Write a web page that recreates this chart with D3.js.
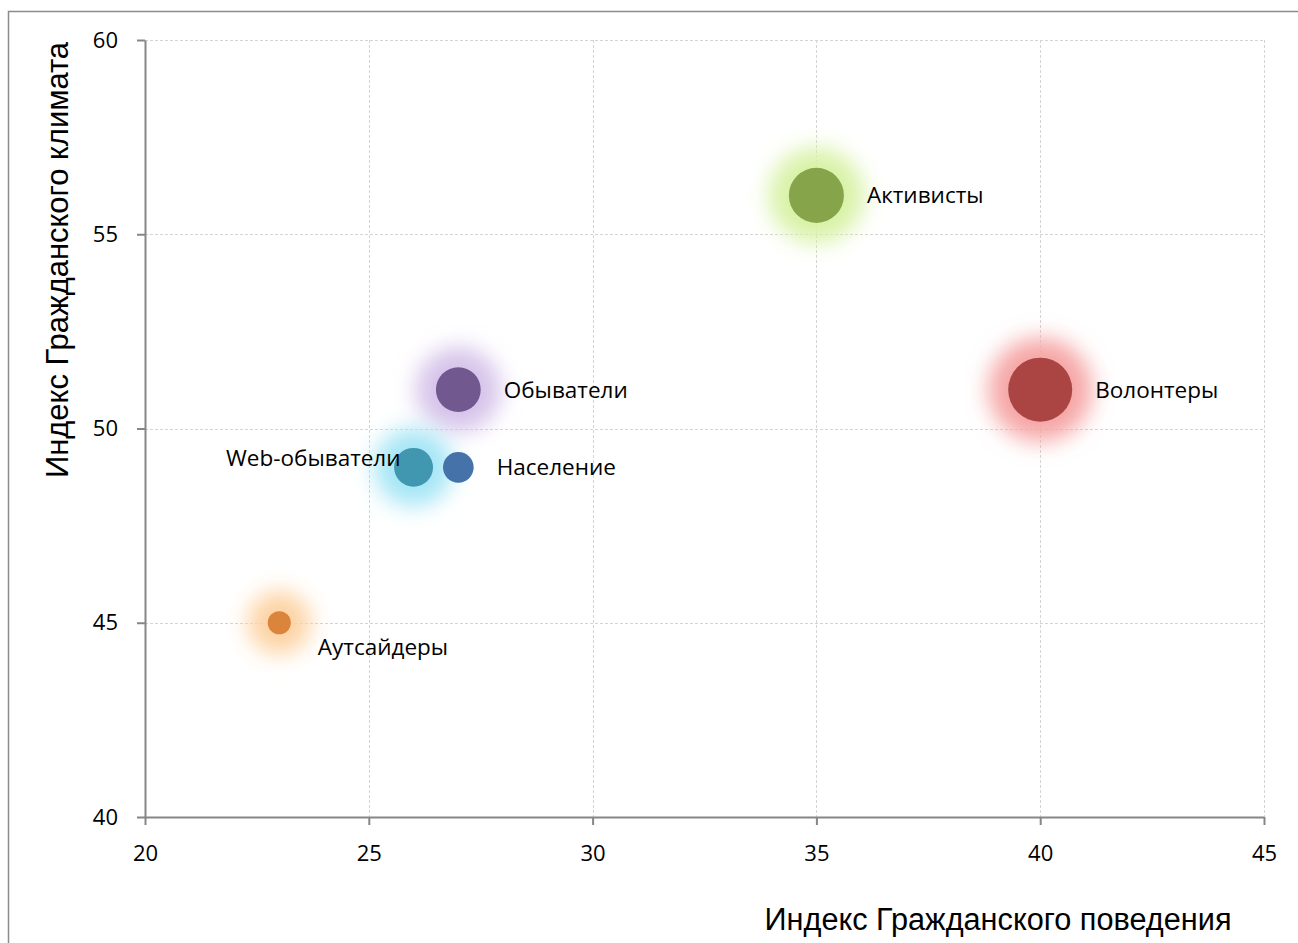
<!DOCTYPE html>
<html>
<head>
<meta charset="utf-8">
<script src="https://cdn.jsdelivr.net/npm/d3@7"></script>
<style>
  html, body { margin: 0; padding: 0; background: #fff; }
  svg { display: block; }
</style>
</head>
<body>
<svg id="chart" width="1298" height="943"></svg>
<script>
// Segments of the population: behaviour index (x), climate index (y), relative group size
const groups   = ["Активисты", "Волонтеры", "Обыватели", "Web-обыватели", "Население", "Аутсайдеры"];
const behavior = [35, 40, 27, 26, 27, 23];
const climate  = [56, 51, 51, 49, 49, 45];
const sizes    = [74, 100, 49, 37, 23, 13];

const colors    = ["#86a44a", "#aa4544", "#71588f", "#4197af", "#4472a9", "#da843c"];
const glowCols  = ["#d8f2a6", "#f6a6a6", "#d6c3ea", "#a6e6f6", null, "#fdd3a3"];

const xTicks = [20, 25, 30, 35, 40, 45];
const yTicks = [40, 45, 50, 55, 60];

const xTitle = "Индекс Гражданского поведения";
const yTitle = "Индекс Гражданского климата";

const svg = d3.select("#chart");
const W = 1298, H = 943;
const plot = { left: 145, right: 1264, top: 40, bottom: 817 };

const x = d3.scaleLinear().domain([20, 45]).range([plot.left, plot.right]);
const y = d3.scaleLinear().domain([40, 60]).range([plot.bottom, plot.top]);
const r = d3.scaleSqrt().domain([0, 100]).range([0, 32]);

const labelFont = "'Open Sans', 'Noto Sans', sans-serif";

// outer frame of the chart area
svg.append("rect")
  .attr("x", 8.5).attr("y", 11.5)
  .attr("width", W + 10).attr("height", H + 10)
  .attr("fill", "none").attr("stroke", "#8c8c8c").attr("stroke-width", 1.5);

// glow filter
const defs = svg.append("defs");
defs.append("filter").attr("id", "soft")
  .attr("x", "-60%").attr("y", "-60%").attr("width", "220%").attr("height", "220%")
  .append("feGaussianBlur").attr("stdDeviation", 11);

// gridlines
const grid = svg.append("g").attr("stroke", "#d4d4d4").attr("stroke-width", 1)
  .attr("stroke-dasharray", "3,2").attr("shape-rendering", "crispEdges");
grid.selectAll("line.v").data(xTicks.slice(1)).join("line")
  .attr("x1", d => Math.round(x(d)) + 0.5).attr("x2", d => Math.round(x(d)) + 0.5)
  .attr("y1", plot.top).attr("y2", plot.bottom);
grid.selectAll("line.h").data(yTicks.slice(1)).join("line")
  .attr("x1", plot.left).attr("x2", plot.right)
  .attr("y1", d => Math.round(y(d)) + 0.5).attr("y2", d => Math.round(y(d)) + 0.5);

// axes
const xAxis = svg.append("g")
  .attr("transform", `translate(0,${plot.bottom})`)
  .call(d3.axisBottom(x).tickValues(xTicks).tickSize(8).tickPadding(20).tickSizeOuter(0));
const yAxis = svg.append("g")
  .attr("transform", `translate(${plot.left},0)`)
  .call(d3.axisLeft(y).tickValues(yTicks).tickSize(8).tickPadding(19).tickSizeOuter(0));

[xAxis, yAxis].forEach(ax => {
  ax.select(".domain").attr("stroke", "#868686").attr("stroke-width", 2);
  ax.selectAll(".tick line").attr("stroke", "#868686").attr("stroke-width", 2);
  ax.selectAll(".tick text")
    .attr("fill", "#000")
    .style("font-family", labelFont)
    .style("font-size", "22px");
});

// bubbles
const pts = groups.map((g, i) => ({
  name: g, x: behavior[i], y: climate[i], size: sizes[i], color: colors[i], glow: glowCols[i]
}));

const bub = svg.append("g");
bub.selectAll("circle.glow").data(pts.filter(d => d.glow)).join("circle")
  .attr("class", "glow")
  .attr("cx", d => x(d.x)).attr("cy", d => y(d.y))
  .attr("r", d => r(d.size) + 20)
  .attr("fill", d => d.glow)
  .attr("filter", "url(#soft)");

bub.selectAll("circle.dot").data(pts).join("circle")
  .attr("class", "dot")
  .attr("cx", d => x(d.x)).attr("cy", d => y(d.y))
  .attr("r", d => r(d.size))
  .attr("fill", d => d.color);

// data labels: placed beside each bubble
const placement = {
  "Web-обыватели": { side: "left", dx: -13, dy: -9 },
  "Аутсайдеры":   { side: "right", dx: 27, dy: 24 }
};
svg.append("g").selectAll("text").data(pts).join("text")
  .attr("x", d => {
    const p = placement[d.name];
    if (p && p.side === "left") return x(d.x) + p.dx;
    return x(d.x) + r(d.size) + (p ? p.dx : 23);
  })
  .attr("y", d => y(d.y) + (placement[d.name] ? placement[d.name].dy : 0))
  .attr("dy", "0.35em")
  .attr("text-anchor", d => (placement[d.name] && placement[d.name].side === "left") ? "end" : "start")
  .style("font-family", labelFont)
  .style("font-size", "22.5px")
  .attr("fill", "#000")
  .text(d => d.name);

// axis titles
svg.append("text")
  .attr("x", 998).attr("y", 930)
  .attr("text-anchor", "middle")
  .attr("textLength", 467).attr("lengthAdjust", "spacingAndGlyphs")
  .style("font-family", "'Liberation Sans Narrow', 'Liberation Sans', Arial, sans-serif")
  .style("font-size", "31px")
  .text(xTitle);

svg.append("text")
  .attr("transform", "translate(68,260) rotate(-90)")
  .attr("text-anchor", "middle")
  .attr("textLength", 436).attr("lengthAdjust", "spacingAndGlyphs")
  .style("font-family", "'Liberation Sans Narrow', 'Liberation Sans', Arial, sans-serif")
  .style("font-size", "31px")
  .text(yTitle);
</script>
</body>
</html>
